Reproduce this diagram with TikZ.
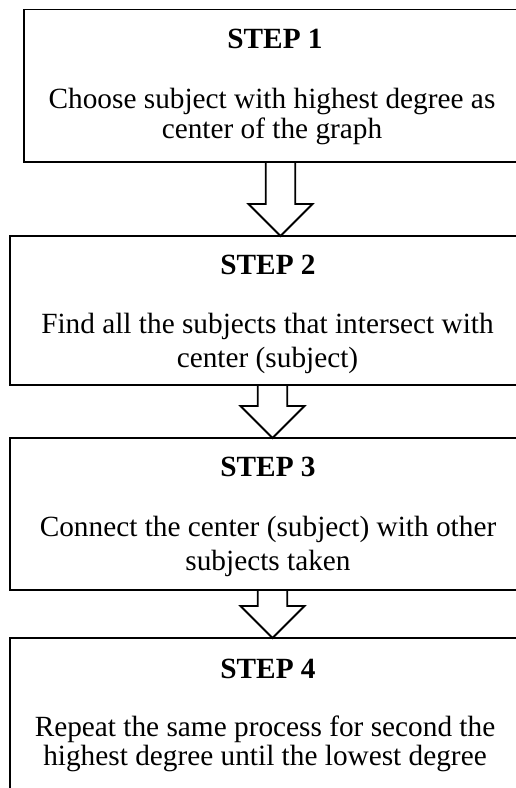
\documentclass[tikz,border=0pt]{standalone}
\usepackage{fontspec}
\setmainfont{Liberation Serif}
\usetikzlibrary{calc}
\tikzset{
  stepbox/.style={draw=black, line width=1.8pt, anchor=north west, inner sep=0pt, outer sep=0pt},
  steptitle/.style={anchor=base, inner sep=0pt, font=\fontsize{29.3}{33}\selectfont\bfseries},
  steptext/.style={anchor=base, inner sep=0pt, font=\fontsize{29.3}{33}\selectfont},
  blockarr/.style={draw=black, line width=1.8pt, line join=miter},
}
\newcommand\blockarrow[2]{%
  \draw[blockarr] let \p1=(#1), \p2=(#2) in
    (\x1-14.8pt,\y1) -- (\x1-14.8pt,\y2+32pt) -- (\x1-32pt,\y2+32pt) -- (\x2,\y2)
    -- (\x1+32pt,\y2+32pt) -- (\x1+14.8pt,\y2+32pt) -- (\x1+14.8pt,\y1);}
\begin{document}
\begin{tikzpicture}[x=1pt,y=-1pt]
\useasboundingbox (0,0) rectangle (516,788);
\clip (0,0) rectangle (516,788);
% boxes
\node[stepbox, minimum width=502pt, minimum height=152.5pt] (b1) at (24,9.5) {};
\node[stepbox, minimum width=516pt, minimum height=149pt] (b2) at (10,236) {};
\node[stepbox, minimum width=516pt, minimum height=152pt] (b3) at (10,438) {};
\node[stepbox, minimum width=516pt, minimum height=200pt] (b4) at (10,638) {};
% texts
\node[steptitle] (h1) at (275,48) {STEP 1};
\node[steptext] (t1a) at (272,108) {Choose subject with highest degree as};
\node[steptext] (t1b) at (272,138.3) {center of the graph};
\node[steptitle] (h2) at (268,274) {STEP 2};
\node[steptext] (t2a) at (267.5,333) {Find all the subjects that intersect with};
\node[steptext] (t2b) at (267.5,367) {center (subject)};
\node[steptitle] (h3) at (268,476) {STEP 3};
\node[steptext] (t3a) at (268,536.7) {Connect the center (subject) with other};
\node[steptext] (t3b) at (268,570) {subjects taken};
\node[steptitle] (h4) at (268,678) {STEP 4};
\node[steptext] (t4a) at (265,736.7) {Repeat the same process for second the};
\node[steptext] (t4b) at (265,765.5) {highest degree until the lowest degree};
% arrows
\coordinate (a1s) at ([xshift=256.5pt]b1.south west);
\coordinate (a1t) at (a1s |- b2.north);
\coordinate (a2s) at ([xshift=262.5pt]b2.south west);
\coordinate (a2t) at (a2s |- b3.north);
\coordinate (a3s) at ([xshift=262.5pt]b3.south west);
\coordinate (a3t) at (a3s |- b4.north);
\blockarrow{a1s}{a1t}
\blockarrow{a2s}{a2t}
\blockarrow{a3s}{a3t}
\end{tikzpicture}
\end{document}
